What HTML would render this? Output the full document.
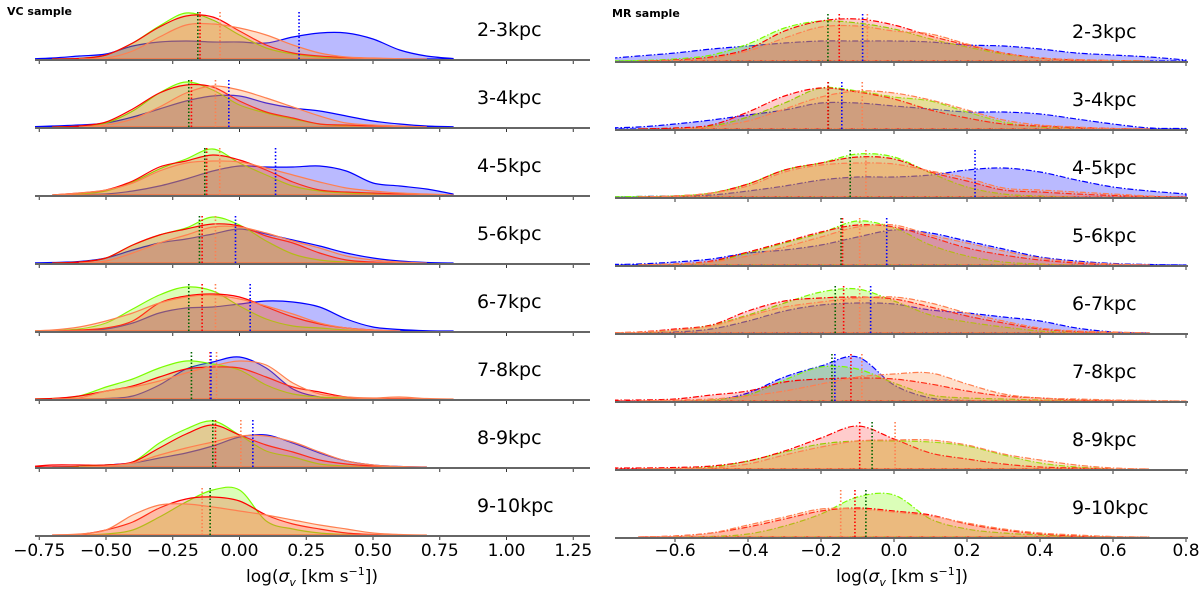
<!DOCTYPE html>
<html><head><meta charset="utf-8"><style>
html,body{margin:0;padding:0;background:#fff;}
svg{display:block;font-family:"DejaVu Sans","Liberation Sans",sans-serif;}
</style></head><body>
<svg id="chart" width="1200" height="590" viewBox="0 0 1200 590">
<text x="7" y="15" font-size="11" font-weight="bold">VC sample</text>
<text x="612" y="17" font-size="11" font-weight="bold">MR sample</text>
</svg>
<script>
// grid of x values (log sigma) at which densities are read: -0.8 .. 0.8 step 0.1
const gridX = [-0.8,-0.7,-0.6,-0.5,-0.4,-0.3,-0.2,-0.1,0,0.1,0.2,0.3,0.4,0.5,0.6,0.7,0.8];
const rowLabels = ["2-3kpc","3-4kpc","4-5kpc","5-6kpc","6-7kpc","7-8kpc","8-9kpc","9-10kpc"];
const leftTicks = [-0.75,-0.5,-0.25,0,0.25,0.5,0.75,1.0,1.25];
const leftTickLabels = ["\u22120.75","\u22120.50","\u22120.25","0.00","0.25","0.50","0.75","1.00","1.25"];
const rightTicks = [-0.6,-0.4,-0.2,0,0.2,0.4,0.6,0.8];
const rightTickLabels = ["\u22120.6","\u22120.4","\u22120.2","0.0","0.2","0.4","0.6","0.8"];

// VC sample densities (per row)
const vcGreen = [
[0,0,0.7,4,16,33,46,39,24,11,5,2,1,0,0,0,0],
[0,0,1,4,16,34,45,37,22,14,8,3,1,0,0,0,0],
[0,0,1,4,13,26,36,46,32,20,9,4,2,1,0,0,0],
[0,0,1,5,18,28,35,46,38,22,9,3,1,0,0,0,0],
[0,0.5,2,8,22,36,44,40,25,12,5,3,1,0,0,0,0],
[0,0.5,3,12,20,31,38,35,29,14,5,2,1,0,0,0,0],
[0,0,0.5,2,5,24,38,46,32,16,10,3,1,0,0,0,0],
[0,0,0,1,5,18,33,45,45,14,6,2,0.5,0,0,0,0]];
const vcRed = [
[0,0,0.5,4,16,32,43,42,28,14,6,3,1.5,0.5,0,0,0],
[0,0,1,5,18,34,42,40,26,15,9,3,2,1,0.5,0,0],
[0,0,2,5,14,28,34,40,35,25,13,5,3,2,1,0,0],
[0,0,1,5,18,28,34,39,37,27,20,10,3,1,0,0,0],
[0,0,1,3,10,28,35,37,34,24,14,7,3,1,0,0,0],
[0,0.5,3,8,13,22,30,32,31,22,12,7,2,0.5,0.5,0,0],
[0,2,2,2,5,19,33,42,32,22,15,7,3,1,0,0,0],
[0,0,0.5,5,13,27,36,38,34,20,11,6,2,0.5,0,0,0]];
const vcOrange = [
[0,0,0,1,8,22,34,35,31,24,14,6,2,1,0.3,0,0],
[0,0,0,2,8,20,34,41,37,29,20,11,4,2,1,0,0],
[0,0,2,5,12,24,32,34,33,27,20,13,7,4,2,1,0],
[0,0,0,2,10,20,28,36,36,30,22,15,7,3,1,0,0],
[0,1,4,10,18,28,34,36,32,25,17,8,3,1,0,0,0],
[0,0,1,8,12,18,26,33,38,34,16,5,2,1,2,0.5,0],
[0,0,0,1,4,12,19,25,31,31,25,15,6,2,0.5,0,0],
[0,0,1,5,20,30,31,28,24,20,15,10,6,2,0.5,0,0]];
const vcBlue = [
[0,1,3,5,13,17,18,17,17,16,22,26,26,20,9,3,0.5],
[0,1,2,4,10,18,26,31,31,24,19,16,11,6,3,1,0.3],
[0,0,0.5,1,4,9,16,24,29,28,28,29,24,12,9,6,1],
[0,0.5,1.5,5,13,20,24,29,34,29,23,17,10,5,2,0.5,0],
[0,0,0.5,2,8,18,23,24,27,30,29,24,12,4,1.5,0.3,0],
[0,0,0,0.5,3,14,30,37,42,31,10,2,0.5,0,0,0,0],
[0,0,0.5,2,4,9,14,21,30,32,24,14,6,2,0.5,0,0],
null];
const vcMedGreen = [-0.156,-0.19,-0.13,-0.15,-0.19,-0.18,-0.10,-0.11];
const vcMedRed = [-0.148,-0.18,-0.123,-0.14,-0.14,-0.11,-0.09,null];
const vcMedOrange = [-0.073,-0.09,-0.074,-0.09,-0.09,-0.086,0.005,-0.14];
const vcMedBlue = [0.223,-0.04,0.135,-0.015,0.04,-0.107,0.05,null];

// MR sample densities (per row)
const mrGreen = [
[0,0.5,2,6,17,33,40,38,32,22,14,7,3,1,0.5,0,0],
[0,0,1,3,12,26,41,38,32,28,17,7,2,1,0,0,0],
[0,0.5,1,4,13,27,34,43,40,24,10,3,1,0,0,0,0],
[0,0,1,3,12,22,32,44,37,20,9,3,1,0,0,0,0],
[0,0.5,3,8,18,30,41,44,32,18,11,6,2,0.5,0,0,0],
[0,0,0,1,6,21,34,32,18,6,3,2,1,0.5,0,0,0],
[0,0,0.5,2,8,17,25,28,28,27,23,14,6,2,0,0,0],
[0,0,0,0.5,3,11,23,40,42,18,8,4,2,0.5,0,0,0]];
const mrRed = [
[0,0,1,4,12,30,40,42,36,25,16,8,3,1,0.5,0,0],
[0,0,1,4,17,33,41,37,30,19,11,5,3,1.5,0.5,0,0],
[0,0,1,4,13,27,34,40,38,25,16,7,5,3,1.5,0.5,0],
[0,0,1,4,13,23,33,40,38,28,17,10,5,2,0.5,0,0],
[0,1,4,8,22,32,35,36,34,26,17,10,4,1.5,0.5,0,0],
[1,1,2,6,10,19,22,23,22,17,10,5,3,1,0.5,0,0],
[1,1,1.5,3,8,18,31,43,30,16,10,5,2,1,0,0,0],
[0,0,1,4,10,18,26,29,26,22,13,7,3,1,0,0,0]];
const mrOrange = [
[0,0,0.5,3,10,23,34,35,30,27,17,8,3,1.5,0.5,0,0],
[0,0,0,2,8,20,32,38,36,29,19,9,4,2,0.5,0,0],
[0,0,1,4,11,25,32,34,33,26,19,9,7,5,3,1,0],
[0,0,1,3,9,18,28,38,40,30,22,14,7,3,1,0,0],
[0,1,3,7,17,26,31,35,36,30,20,12,5,2,1,0,0],
[0,0,1,2,5,10,17,24,27,28,17,7,3,2,1,0.5,0],
[0,0,0.5,1,5,14,22,28,29,29,24,15,9,4,1,0,0],
[0,0,1,4,12,20,28,28,25,21,14,8,4,2,0.5,0,0]];
const mrBlue = [
[2,5,8,12,15,18,20,20,20,19,16,15,12,8,6,4,1],
[1,2,5,9,14,19,26,26,23,20,17,17,15,10,5,1,0.5],
[0,0.5,1,2,6,11,17,20,20,22,27,29,25,17,10,6,3],
[0.5,1,3,6,12,15,20,28,35,32,24,16,8,4,1.5,0.5,0],
[0,0,1,4,12,22,28,30,29,23,20,16,12,5,1,0,0],
[0,0,0,0.5,8,24,35,44,16,3,0.5,0,0,0,0,0,0],
null,null];
const mrMedGreen = [-0.181,-0.18,-0.12,-0.145,-0.161,-0.17,-0.06,-0.077];
const mrMedRed = [-0.15,-0.181,null,-0.141,-0.138,-0.118,-0.094,-0.107];
const mrMedOrange = [-0.073,-0.087,-0.077,-0.094,-0.094,-0.088,0.003,-0.146];
const mrMedBlue = [-0.086,-0.143,0.222,-0.02,-0.064,-0.162,null,null];

const NS = "http://www.w3.org/2000/svg";
const svg = document.getElementById("chart");
function mk(tag, attrs, parent){ const e=document.createElementNS(NS,tag); for(const k in attrs) e.setAttribute(k,attrs[k]); (parent||svg).appendChild(e); return e; }

const panels = [
 {key:"vc", x0:239.5, k:267, left:35, right:590, base0:59, green:vcGreen, red:vcRed, orange:vcOrange, blue:vcBlue,
  mg:vcMedGreen, mr:vcMedRed, mo:vcMedOrange, mb:vcMedBlue, ticks:leftTicks, tl:leftTickLabels, labelX:477, dash:null, titleX:312},
 {key:"mr", x0:894, k:365, left:615, right:1188, base0:61, green:mrGreen, red:mrRed, orange:mrOrange, blue:mrBlue,
  mg:mrMedGreen, mr:mrMedRed, mo:mrMedOrange, mb:mrMedBlue, ticks:rightTicks, tl:rightTickLabels, labelX:1072, dash:"6,2,1.5,2", titleX:902}
];
const styles = {
 blue:{stroke:"#0000ff", fill:"rgba(0,0,255,0.27)", med:"#0000ff"},
 green:{stroke:"#7cfc00", fill:"rgba(124,252,0,0.28)", med:"#006400"},
 red:{stroke:"#ff0000", fill:"rgba(255,0,0,0.2)", med:"#ff0000"},
 orange:{stroke:"#ff7f50", fill:"rgba(255,150,80,0.3)", med:"#ff7f50"}
};
const STEP = 68;

function pathFor(vals, xs, base){
  let first = 0, last = vals.length-1;
  while(first < last-1 && vals[first+1] === 0) first++;
  while(last > first+1 && vals[last-1] === 0) last--;
  const pts = [];
  for(let i=first;i<=last;i++) pts.push([xs(gridX[i]), base - vals[i]]);
  let d = "M"+pts[0][0]+","+base+" L"+pts[0][0]+","+pts[0][1];
  for(let i=0;i<pts.length-1;i++){
    const p0=pts[Math.max(0,i-1)], p1=pts[i], p2=pts[i+1], p3=pts[Math.min(pts.length-1,i+2)];
    const c1x=p1[0]+(p2[0]-p0[0])/6, c1y=Math.min(base,p1[1]+(p2[1]-p0[1])/6);
    const c2x=p2[0]-(p3[0]-p1[0])/6, c2y=Math.min(base,p2[1]-(p3[1]-p1[1])/6);
    d += " C"+c1x+","+c1y+" "+c2x+","+c2y+" "+p2[0]+","+p2[1];
  }
  return d + " L"+pts[pts.length-1][0]+","+base+" Z";
}

panels.forEach((P,pi)=>{
  const xs = v => P.x0 + P.k*v;
  const clip = mk("clipPath",{id:"clip-"+P.key});
  mk("rect",{x:P.left,y:0,width:P.right-P.left,height:590},clip);
  const g = mk("g",{"clip-path":"url(#clip-"+P.key+")"});
  
  
  rowLabels.forEach((lab,r)=>{
    const base = P.base0 + STEP*r;
    const rg = mk("g",{},g);
    
    
    ["blue","green","red","orange"].forEach(c=>{
      const vals = P[c][r];
      if(!vals) return;
      const s = styles[c];
      const p = mk("path",{d:pathFor(vals,xs,base),
        fill:s.fill, stroke:s.stroke, "stroke-width":1.2, "stroke-linejoin":"round"},rg);
      if(P.dash) p.setAttribute("stroke-dasharray",P.dash);
      
      
    });
    [["green",P.mg],["red",P.mr],["orange",P.mo],["blue",P.mb]].forEach(([c,arr])=>{
      const v = arr[r];
      if(v===null || v===undefined) return;
      const l = mk("line",{x1:xs(v),x2:xs(v),y1:base,y2:base-48,stroke:styles[c].med,"stroke-width":1.6,"stroke-dasharray":"1.5,2"},rg);
      
      
    });
  });
  rowLabels.forEach((lab,r)=>{
    const base = P.base0 + STEP*r;
    const ax = mk("line",{x1:P.left,x2:P.right,y1:base+1,y2:base+1,stroke:"#666","stroke-width":2});
    
    
    P.ticks.forEach(t=>{
      const tk = mk("line",{x1:xs(t),x2:xs(t),y1:base+2,y2:base+5,stroke:"#333","stroke-width":1});
      
      
    });
    const tx = mk("text",{x:P.labelX,y:base-23,"font-size":19,fill:"#000"});
    tx.textContent = lab;
    
    
  });
  P.ticks.forEach((t,i)=>{
    const tx = mk("text",{x:xs(t),y:556,"font-size":17,"text-anchor":"middle",fill:"#000"});
    tx.textContent = P.tl[i];
    
    
  });
  const tt = mk("text",{x:P.titleX,y:582,"font-size":17,"text-anchor":"middle",fill:"#000"});
  tt.innerHTML = 'log(<tspan font-style="italic">σ</tspan><tspan font-style="italic" font-size="11" dy="4">v</tspan><tspan dy="-4"> [km s</tspan><tspan font-size="11" dy="-7">−1</tspan><tspan dy="7">])</tspan>';
  
  
});
</script>
</body></html>
